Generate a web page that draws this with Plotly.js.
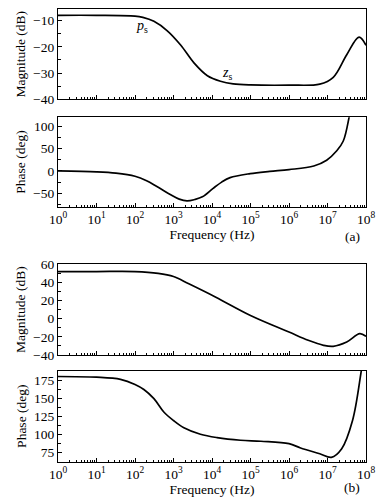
<!DOCTYPE html>
<html>
<head>
<meta charset="utf-8">
<script src="https://cdn.plot.ly/plotly-3.0.1.min.js"></script>
<style>
html,body{margin:0;padding:0;background:#fff;}
#chart{width:386px;height:504px;}
</style>
</head>
<body>
<div id="chart"></div>
<script>
// ---- data ----
var decadeVals = [1, 10, 100, 1000, 10000, 100000, 1000000, 10000000, 100000000];
var decadeText = ['10<sup>0</sup>', '10<sup>1</sup>', '10<sup>2</sup>', '10<sup>3</sup>', '10<sup>4</sup>',
                  '10<sup>5</sup>', '10<sup>6</sup>', '10<sup>7</sup>', '10<sup>8</sup>'];

// (a) magnitude
var magA_f = [1, 10, 100, 160, 310, 690, 1550, 3400, 7600, 16600, 35500, 100000, 1000000, 6300000, 14100000, 31600000, 66000000, 100000000];
var magA_v = [-8, -8, -8.3, -8.8, -10.3, -13.9, -19.4, -26.1, -31, -33.1, -34.1, -34.5, -34.6, -34.2, -31.6, -23, -16.3, -19.4];

// (a) phase
var phA_f = [1, 10, 32, 100, 200, 370, 800, 1410, 2240, 3550, 5620, 10700, 17800, 29500, 98000, 316000, 1000000, 4400000, 9500000, 17400000, 25700000, 36300000, 50000000];
var phA_v = [0, -2, -5, -12, -22, -35, -52, -63, -67, -64, -58, -39, -25, -15, -6, -1, 3, 11, 24, 45, 67, 120, 200];

// (b) magnitude
var magB_f = [1, 10, 100, 400, 1000, 2500, 12600, 100000, 1000000, 3160000, 7900000, 14100000, 31600000, 69000000, 100000000];
var magB_v = [52, 52, 52, 50, 46.5, 38.5, 23.7, 3.6, -14.7, -23.8, -29.3, -30.4, -25.7, -16.5, -19.5];

// (b) phase
var phB_f = [1, 10, 42, 100, 170, 310, 560, 1000, 1860, 5000, 13500, 55000, 186000, 1000000, 2000000, 6300000, 12600000, 23400000, 44700000, 74000000, 89000000];
var phB_v = [180, 179, 176, 169, 162, 149.3, 130.8, 119, 109, 100, 95.4, 91.7, 90.3, 87, 81, 73, 68, 80, 119, 185, 215];

// curve labels
var labelText = ['<i>p</i><sub>s</sub>', '<i>z</i><sub>s</sub>'];
var labelX = [155, 24000];
var labelY = [-12.1, -30];

// ---- chart ----
var FONT = 'Liberation Serif';
var lineStyle = {color: '#000', width: 1.7, shape: 'spline', smoothing: 1};

var traces = [
  {x: magA_f, y: magA_v, xaxis: 'x', yaxis: 'y', mode: 'lines', line: lineStyle},
  {x: phA_f, y: phA_v, xaxis: 'x2', yaxis: 'y2', mode: 'lines', line: lineStyle},
  {x: magB_f, y: magB_v, xaxis: 'x3', yaxis: 'y3', mode: 'lines', line: lineStyle},
  {x: phB_f, y: phB_v, xaxis: 'x4', yaxis: 'y4', mode: 'lines', line: lineStyle}
];

var xd = [58 / 386, 366 / 386];
function ydom(top, bottom) { return [1 - bottom / 504, 1 - top / 504]; }

function xax(anchor, showLabels) {
  var a = {
    type: 'log', domain: xd, anchor: anchor, range: [0, 8],
    tickmode: 'array', tickvals: decadeVals, ticktext: decadeText,
    showticklabels: showLabels,
    ticks: 'inside', ticklen: 4, tickwidth: 1, tickcolor: '#000',
    minor: {ticks: 'inside', ticklen: 2, tickwidth: 1, tickcolor: '#000', dtick: 'D1', showgrid: false},
    showline: true, linecolor: '#000', linewidth: 1.3, mirror: true,
    showgrid: false, zeroline: false,
    tickfont: {family: FONT, size: 13.5, color: '#000'}
  };
  if (showLabels) {
    a.title = {text: 'Frequency (Hz)', font: {family: FONT, size: 13.5, color: '#000'}, standoff: 2};
  }
  return a;
}
function yax(anchor, dom, range, dtick, title) {
  return {
    domain: dom, anchor: anchor, range: range,
    tickmode: 'linear', tick0: 0, dtick: dtick,
    ticks: 'inside', ticklen: 4, tickwidth: 1, tickcolor: '#000',
    minor: {ticks: 'inside', ticklen: 3, tickwidth: 1, tickcolor: '#000', dtick: dtick / 2, showgrid: false},
    showline: true, linecolor: '#000', linewidth: 1.3, mirror: true,
    showgrid: false, zeroline: false,
    tickfont: {family: FONT, size: 13.5, color: '#000'},
    title: {text: title, font: {family: FONT, size: 13.5, color: '#000'}, standoff: 4}
  };
}

var layout = {
  width: 386, height: 504,
  margin: {l: 0, r: 0, t: 0, b: 0},
  paper_bgcolor: '#fff', plot_bgcolor: '#fff',
  showlegend: false,
  font: {family: FONT, size: 13.5, color: '#000'},
  xaxis: xax('y', false),
  yaxis: yax('x', ydom(9.3, 99.3), [-40, -5.7], 10, 'Magnitude (dB)'),
  xaxis2: xax('y2', true),
  yaxis2: yax('x2', ydom(117.3, 206.7), [-80, 120], 50, 'Phase (deg)'),
  xaxis3: xax('y3', false),
  yaxis3: yax('x3', ydom(264.3, 355), [-40, 60], 20, 'Magnitude (dB)'),
  xaxis4: xax('y4', true),
  yaxis4: yax('x4', ydom(370.7, 461.7), [62, 188], 25, 'Phase (deg)'),
  annotations: [
    {text: '(a)', xref: 'paper', yref: 'paper', x: 352 / 386, y: 1 - 236 / 504, showarrow: false,
     xanchor: 'center', yanchor: 'middle', font: {family: FONT, size: 13.5, color: '#000'}},
    {text: '(b)', xref: 'paper', yref: 'paper', x: 352 / 386, y: 1 - 487 / 504, showarrow: false,
     xanchor: 'center', yanchor: 'middle', font: {family: FONT, size: 13.5, color: '#000'}},
    {text: labelText[0], xref: 'x', yref: 'y', x: Math.log10(labelX[0]), y: labelY[0], showarrow: false,
     font: {family: FONT, size: 14, color: '#000'}},
    {text: labelText[1], xref: 'x', yref: 'y', x: Math.log10(labelX[1]), y: labelY[1], showarrow: false,
     font: {family: FONT, size: 14, color: '#000'}}
  ]
};

Plotly.newPlot('chart', traces, layout, {displayModeBar: false});
</script>
</body>
</html>
